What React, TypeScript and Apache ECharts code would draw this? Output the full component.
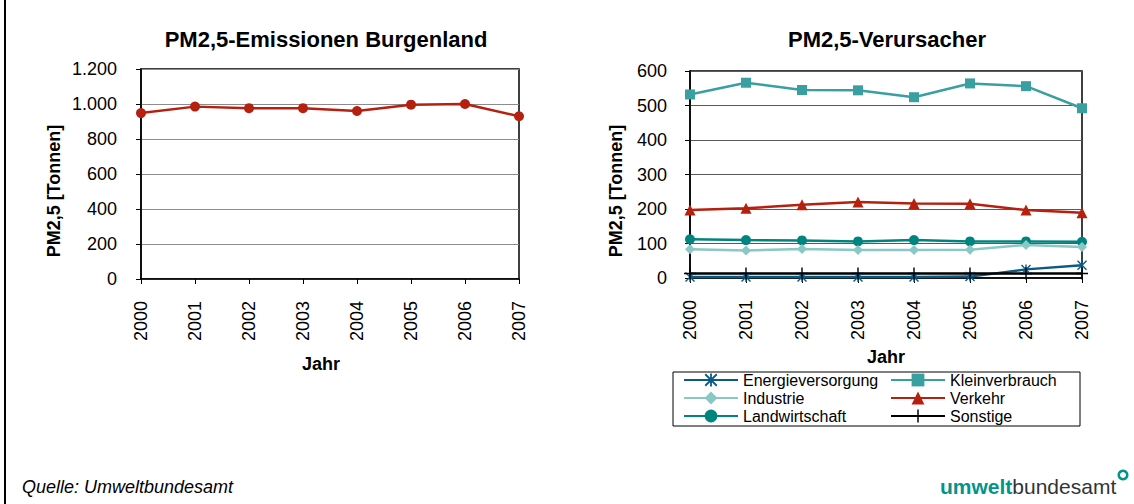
import React, { useEffect, useRef } from "react";
import * as echarts from "echarts";

const years = ["2000", "2001", "2002", "2003", "2004", "2005", "2006", "2007"];
const totalBurgenland = [948, 985, 976, 976, 960, 996, 1000, 930];
const energieversorgung = [3, 3, 3, 3, 3, 4, 25, 37];
const kleinverbrauch = [532, 566, 545, 544, 524, 564, 556, 492];
const industrie = [83, 80, 84, 81, 81, 82, 96, 90];
const verkehr = [197, 202, 212, 220, 216, 215, 197, 189];
const landwirtschaft = [112, 110, 109, 106, 110, 106, 106, 105];
const sonstige = [13, 13, 13, 13, 13, 13, 13, 13];

const FONT = "Liberation Sans, Arial, sans-serif";

const STAR =
  "path://M-0.7,-5H0.7V5H-0.7Z M-5,-4L-4,-5L5,4L4,5Z M4,-5L5,-4L-4,5L-5,4Z";
const PLUS = "path://M-0.7,-6H0.7V6H-0.7Z M-6,-0.7H6V0.7H-6Z";

const fmt = (v: number) => String(v).replace(/\B(?=(\d{3})+(?!\d))/g, ".");

export default function App() {
  const ref = useRef<HTMLDivElement>(null);
  useEffect(() => {
    document.body.style.margin = "0";
    const chart = echarts.init(ref.current!, null, { renderer: "svg" });

    const xAxisBase = (gridIndex: number, nameGap: number, padRight: number) => ({
      type: "category" as const,
      gridIndex,
      data: years,
      boundaryGap: false,
      name: "Jahr",
      nameLocation: "middle" as const,
      nameGap,
      nameTextStyle: {
        fontFamily: FONT,
        fontSize: 18,
        fontWeight: "bold",
        color: "#000",
        padding: [0, padRight, 0, 0],
      },
      axisLine: { show: true, lineStyle: { color: "#000", width: 1.5 } },
      axisTick: { show: true, length: 5, lineStyle: { color: "#000" } },
      axisLabel: { rotate: 90, margin: 22, fontFamily: FONT, fontSize: 18, color: "#000" },
      splitLine: { show: false },
    });

    const yAxisBase = (
      gridIndex: number,
      max: number,
      interval: number,
      margin: number,
      gridColor: string
    ) => ({
      type: "value" as const,
      gridIndex,
      min: 0,
      max,
      interval,
      axisLine: { show: true, lineStyle: { color: "#000", width: 1.5 } },
      axisTick: { show: true, length: 5, lineStyle: { color: "#000" } },
      axisLabel: { margin, fontFamily: FONT, fontSize: 18, color: "#000", formatter: fmt },
      splitLine: { show: true, lineStyle: { color: gridColor, width: 1 } },
    });

    const lineSeries = (
      name: string,
      data: number[],
      color: string,
      symbol: string,
      symbolSize: number
    ) => ({
      type: "line" as const,
      name,
      xAxisIndex: 1,
      yAxisIndex: 1,
      data,
      color,
      symbol,
      symbolSize,
      showAllSymbol: true,
      lineStyle: { color, width: 2.5 },
      itemStyle: { color },
    });

    const yTitle = (x: number, y: number) => ({
      type: "text",
      x,
      y,
      rotation: Math.PI / 2,
      style: {
        text: "PM2,5 [Tonnen]",
        fontFamily: FONT,
        fontSize: 18,
        fontWeight: "bold",
        fill: "#000",
        textAlign: "center",
        textVerticalAlign: "middle",
      },
    });

    const legendBase = (left: number, data: string[]) => ({
      orient: "vertical",
      left,
      top: 372,
      padding: 0,
      itemWidth: 54,
      itemHeight: 16,
      itemGap: 2,
      data,
      textStyle: { fontFamily: FONT, fontSize: 16, lineHeight: 14, color: "#000" },
    });

    chart.setOption({
      animation: false,
      backgroundColor: "#fff",
      title: [
        {
          text: "PM2,5-Emissionen Burgenland",
          left: 326,
          top: 28,
          textAlign: "center",
          padding: 0,
          textStyle: { fontFamily: FONT, fontSize: 22, fontWeight: "bold", color: "#000" },
        },
        {
          text: "PM2,5-Verursacher",
          left: 887,
          top: 28,
          textAlign: "center",
          padding: 0,
          textStyle: { fontFamily: FONT, fontSize: 22, fontWeight: "bold", color: "#000" },
        },
      ],
      grid: [
        { left: 141, top: 69, width: 378, height: 210, show: true, borderColor: "#000", borderWidth: 1.5 },
        { left: 690, top: 71, width: 392, height: 207, show: true, borderColor: "#000", borderWidth: 1.5 },
      ],
      xAxis: [xAxisBase(0, 76, 18), xAxisBase(1, 70, 0)],
      yAxis: [
        yAxisBase(0, 1200, 200, 24, "#8c8c8c"),
        yAxisBase(1, 600, 100, 23, "#5a5a5a"),
      ],
      legend: [
        legendBase(683, ["Energieversorgung", "Industrie", "Landwirtschaft"]),
        legendBase(890, ["Kleinverbrauch", "Verkehr", "Sonstige"]),
      ],
      series: [
        {
          type: "line",
          name: "PM2,5-Emissionen Burgenland",
          xAxisIndex: 0,
          yAxisIndex: 0,
          data: totalBurgenland,
          symbol: "circle",
          symbolSize: 10,
          color: "#b5200f",
          lineStyle: { color: "#b5200f", width: 2.5 },
          itemStyle: { color: "#b5200f" },
        },
        lineSeries("Kleinverbrauch", kleinverbrauch, "#3a9fa0", "rect", 10),
        lineSeries("Verkehr", verkehr, "#b5200f", "triangle", 11),
        lineSeries("Landwirtschaft", landwirtschaft, "#00847f", "circle", 10),
        lineSeries("Industrie", industrie, "#8ac7c5", "diamond", 10),
        lineSeries("Energieversorgung", energieversorgung, "#0b5a84", STAR, 10),
        lineSeries("Sonstige", sonstige, "#000000", PLUS, 12),
      ],
      graphic: [
        { type: "line", shape: { x1: 5, y1: 0, x2: 5, y2: 504 }, style: { stroke: "#000", lineWidth: 2 } },
        yTitle(54, 191),
        yTitle(616, 191),
        {
          type: "rect",
          shape: { x: 673, y: 372, width: 407, height: 54 },
          style: { fill: "none", stroke: "#000", lineWidth: 1 },
          z: -1,
        },
        {
          type: "text",
          x: 22,
          y: 487,
          style: {
            text: "Quelle: Umweltbundesamt",
            fontFamily: FONT,
            fontSize: 18,
            fontStyle: "italic",
            fill: "#000",
            textVerticalAlign: "middle",
          },
        },
        {
          type: "text",
          x: 940,
          y: 486,
          style: {
            text: "{a|umwelt}{b|bundesamt}",
            textVerticalAlign: "middle",
            rich: {
              a: { fontFamily: FONT, fontSize: 21, fontWeight: "bold", fill: "#00958b", color: "#00958b" },
              b: { fontFamily: FONT, fontSize: 21, fill: "#333", color: "#333" },
            },
          },
        },
        {
          type: "ring",
          shape: { cx: 1123, cy: 475, r: 5.5, r0: 3 },
          style: { fill: "#00958b" },
        },
      ],
    });
    return () => chart.dispose();
  }, []);
  return <div ref={ref} style={{ width: 1134, height: 504 }} />;
}
